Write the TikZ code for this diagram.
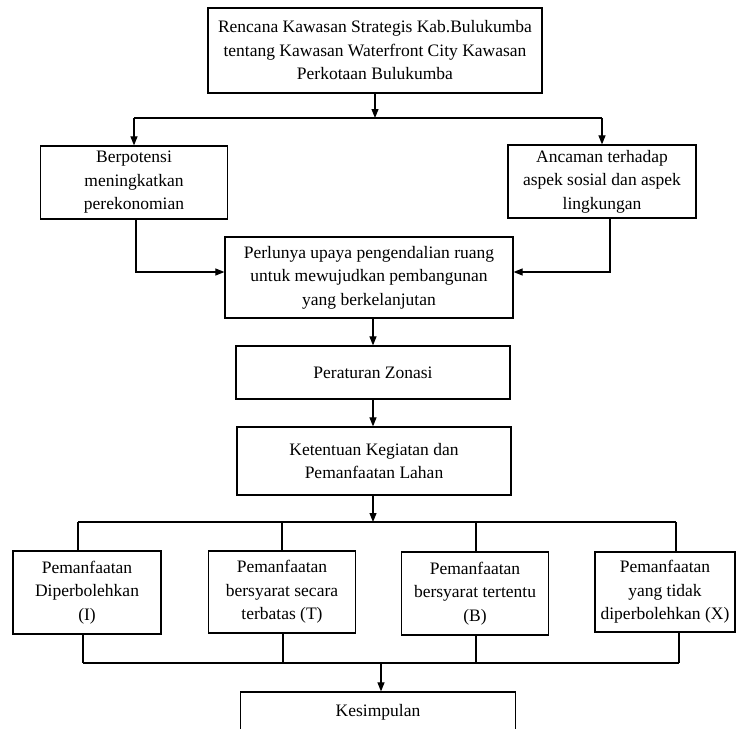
\documentclass[tikz,border=0pt]{standalone}
\usepackage{fontspec}
\setmainfont{Liberation Serif}
\usetikzlibrary{arrows.meta,calc}
\begin{document}
\begin{tikzpicture}[x=1pt,y=-1pt,
  box/.style={draw, line width=1.2pt, align=center, inner sep=0pt,
    font=\fontsize{17.5}{23.5}\selectfont},
  arr/.style={line width=1.1pt, -{Triangle[length=9pt,width=7pt]}},
  ln/.style={line width=1.1pt}]
\useasboundingbox (0,0) rectangle (736,728);
\clip (0,0) rectangle (736,728);

\node[box, minimum width=334pt, minimum height=85pt] (top) at (375,50.5)
  {Rencana Kawasan Strategis Kab.Bulukumba\\tentang Kawasan Waterfront City Kawasan\\Perkotaan Bulukumba};
\node[box, minimum width=187pt, minimum height=73pt] (left) at (134,182.5)
  {Berpotensi\\meningkatkan\\perekonomian};
\node[box, minimum width=188pt, minimum height=73pt] (right) at (602,181.5)
  {Ancaman terhadap\\aspek sosial dan aspek\\lingkungan};
\node[box, minimum width=288pt, minimum height=81pt] (mid) at (369,277.5)
  {Perlunya upaya pengendalian ruang\\untuk mewujudkan pembangunan\\yang berkelanjutan};
\node[box, minimum width=274pt, minimum height=53pt] (per) at (373,372.5)
  {Peraturan Zonasi};
\node[box, minimum width=274pt, minimum height=68pt] (ket) at (374,461)
  {Ketentuan Kegiatan dan\\Pemanfaatan Lahan};
\node[box, minimum width=148pt, minimum height=83pt] (b1) at (87,592.5)
  {Pemanfaatan\\Diperbolehkan\\(I)};
\node[box, minimum width=147pt, minimum height=82pt] (b2) at (282,592)
  {Pemanfaatan\\bersyarat secara\\terbatas (T)};
\node[box, minimum width=147pt, minimum height=83pt] (b3) at (475,593.5)
  {Pemanfaatan\\bersyarat tertentu\\(B)};
\node[box, minimum width=140pt, minimum height=80pt] (b4) at (665,592)
  {Pemanfaatan\\yang tidak\\diperbolehkan (X)};
\node[box, minimum width=274.5pt, minimum height=40pt] (kes) at (378,712)
  {Kesimpulan};

% top split
\coordinate (j1) at (375,118);
\draw[arr] (top) -- (j1);
\draw[ln] (left.north |- j1) -- (right.north |- j1);
\draw[arr] (left.north |- j1) -- (left.north);
\draw[arr] (right.north |- j1) -- (right.north);

% merge into mid
\draw[arr] ([xshift=2pt]left.south) |- ([yshift=5.5pt]mid.west);
\draw[arr] ([xshift=8pt]right.south) |- ([yshift=5.5pt]mid.east);

% chain
\draw[arr] (per.north |- mid.south) -- (per.north);
\draw[arr] (per.south) -- (per.south |- ket.north);

% split to four
\coordinate (j2) at (373,522);
\draw[arr] (ket.south -| j2) -- (j2);
\coordinate (t1) at (78,522);
\coordinate (t2) at (282,522);
\coordinate (t3) at (476,522);
\coordinate (t4) at (676,522);
\draw[ln] (t1) -- (t4);
\draw[ln] (t1) -- (b1.north -| t1);
\draw[ln] (t2) -- (b2.north -| t2);
\draw[ln] (t3) -- (b3.north -| t3);
\draw[ln] (t4) -- (b4.north -| t4);

% merge to conclusion
\coordinate (u1) at (83,663);
\coordinate (u2) at (283,663);
\coordinate (u3) at (476,663);
\coordinate (u4) at (679,663);
\draw[ln] (b1.south -| u1) -- (u1);
\draw[ln] (b2.south -| u2) -- (u2);
\draw[ln] (b3.south -| u3) -- (u3);
\draw[ln] (b4.south -| u4) -- (u4);
\draw[ln] (u1) -- (u4);
\coordinate (j3) at (381,663);
\draw[arr] (j3) -- (kes.north -| j3);
\end{tikzpicture}
\end{document}
